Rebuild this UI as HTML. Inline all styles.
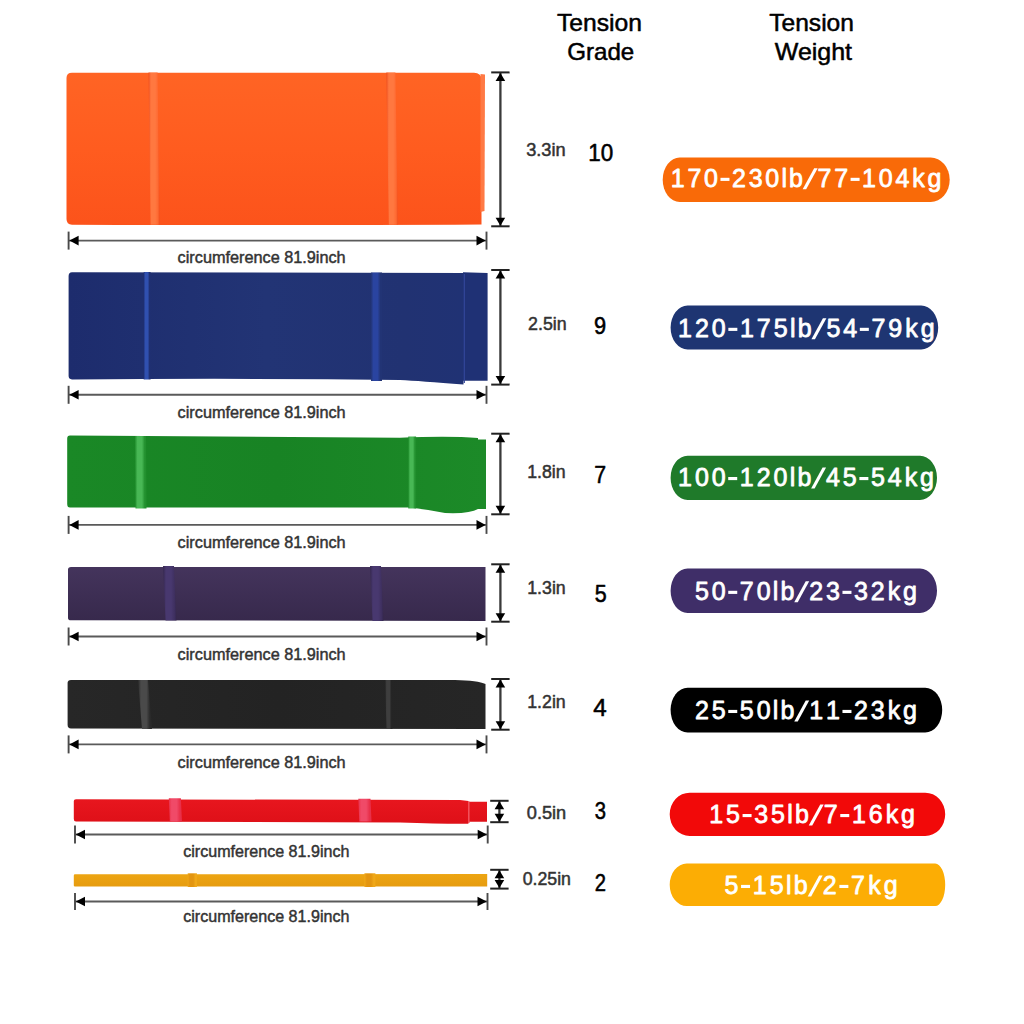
<!DOCTYPE html>
<html><head><meta charset="utf-8"><title>Resistance bands</title>
<style>html,body{margin:0;padding:0;background:#fff;width:1024px;height:1024px;overflow:hidden;position:relative;font-family:"Liberation Sans",sans-serif}</style>
</head><body>
<svg width="1024" height="1024" viewBox="0 0 1024 1024" style="position:absolute;left:0;top:0"><defs><linearGradient id="g1" x1="0" y1="0" x2="0" y2="1"><stop offset="0" stop-color="#FF6424"/><stop offset="0.5" stop-color="#FF5C1F"/><stop offset="1" stop-color="#FC531B"/></linearGradient><linearGradient id="g2" x1="0" y1="0" x2="1" y2="0"><stop offset="0" stop-color="#EE5020"/><stop offset="0.22" stop-color="#FF7840"/><stop offset="0.6" stop-color="#FF7840"/><stop offset="0.85" stop-color="#FF6A32"/><stop offset="1" stop-color="#EE5020"/></linearGradient><linearGradient id="g3" x1="0" y1="0" x2="1" y2="0"><stop offset="0" stop-color="#EE5020"/><stop offset="0.22" stop-color="#FF7840"/><stop offset="0.6" stop-color="#FF7840"/><stop offset="0.85" stop-color="#FF6A32"/><stop offset="1" stop-color="#EE5020"/></linearGradient><linearGradient id="g4" x1="0" y1="0" x2="1" y2="0"><stop offset="0" stop-color="#1D2C6D"/><stop offset="0.5" stop-color="#223475"/><stop offset="0.85" stop-color="#213272"/><stop offset="1" stop-color="#203274"/></linearGradient><linearGradient id="g5" x1="0" y1="0" x2="1" y2="0"><stop offset="0" stop-color="#1F2F72"/><stop offset="0.22" stop-color="#3050B0"/><stop offset="0.6" stop-color="#3050B0"/><stop offset="0.85" stop-color="#1F2F72"/><stop offset="1" stop-color="#1F2F72"/></linearGradient><linearGradient id="g6" x1="0" y1="0" x2="1" y2="0"><stop offset="0" stop-color="#223475"/><stop offset="0.22" stop-color="#2A44A0"/><stop offset="0.6" stop-color="#2A44A0"/><stop offset="0.85" stop-color="#223475"/><stop offset="1" stop-color="#223475"/></linearGradient><linearGradient id="g7" x1="0" y1="0" x2="1" y2="0"><stop offset="0" stop-color="#1A8826"/><stop offset="0.5" stop-color="#188324"/><stop offset="1" stop-color="#1C8A28"/></linearGradient><linearGradient id="g8" x1="0" y1="0" x2="1" y2="0"><stop offset="0" stop-color="#22902E"/><stop offset="0.22" stop-color="#48B855"/><stop offset="0.6" stop-color="#48B855"/><stop offset="0.85" stop-color="#22902E"/><stop offset="1" stop-color="#22902E"/></linearGradient><linearGradient id="g9" x1="0" y1="0" x2="1" y2="0"><stop offset="0" stop-color="#22902E"/><stop offset="0.22" stop-color="#48B855"/><stop offset="0.6" stop-color="#48B855"/><stop offset="0.85" stop-color="#22902E"/><stop offset="1" stop-color="#22902E"/></linearGradient><linearGradient id="g10" x1="0" y1="0" x2="0" y2="1"><stop offset="0" stop-color="#44345C"/><stop offset="1" stop-color="#37294C"/></linearGradient><linearGradient id="g11" x1="0" y1="0" x2="1" y2="0"><stop offset="0" stop-color="#34274E"/><stop offset="0.22" stop-color="#48386F"/><stop offset="0.6" stop-color="#48386F"/><stop offset="0.85" stop-color="#3F3060"/><stop offset="1" stop-color="#34274E"/></linearGradient><linearGradient id="g12" x1="0" y1="0" x2="1" y2="0"><stop offset="0" stop-color="#34274E"/><stop offset="0.22" stop-color="#48386F"/><stop offset="0.6" stop-color="#48386F"/><stop offset="0.85" stop-color="#3F3060"/><stop offset="1" stop-color="#34274E"/></linearGradient><linearGradient id="g13" x1="0" y1="0" x2="1" y2="0"><stop offset="0" stop-color="#272727"/><stop offset="0.5" stop-color="#232323"/><stop offset="1" stop-color="#262626"/></linearGradient><linearGradient id="g14" x1="0" y1="0" x2="1" y2="0"><stop offset="0" stop-color="#2A2A2A"/><stop offset="0.22" stop-color="#4A4A4A"/><stop offset="0.6" stop-color="#4A4A4A"/><stop offset="0.85" stop-color="#2A2A2A"/><stop offset="1" stop-color="#2A2A2A"/></linearGradient><linearGradient id="g15" x1="0" y1="0" x2="1" y2="0"><stop offset="0" stop-color="#262626"/><stop offset="0.22" stop-color="#3E3E3E"/><stop offset="0.6" stop-color="#3E3E3E"/><stop offset="0.85" stop-color="#262626"/><stop offset="1" stop-color="#262626"/></linearGradient><linearGradient id="g16" x1="0" y1="0" x2="0" y2="1"><stop offset="0" stop-color="#E8161E"/><stop offset="1" stop-color="#DE1018"/></linearGradient><linearGradient id="g17" x1="0" y1="0" x2="1" y2="0"><stop offset="0" stop-color="#E8304A"/><stop offset="0.22" stop-color="#F04A68"/><stop offset="0.6" stop-color="#F04A68"/><stop offset="0.85" stop-color="#E8304A"/><stop offset="1" stop-color="#E8304A"/></linearGradient><linearGradient id="g18" x1="0" y1="0" x2="1" y2="0"><stop offset="0" stop-color="#E8304A"/><stop offset="0.22" stop-color="#F04A68"/><stop offset="0.6" stop-color="#F04A68"/><stop offset="0.85" stop-color="#E8304A"/><stop offset="1" stop-color="#E8304A"/></linearGradient><linearGradient id="g19" x1="0" y1="0" x2="0" y2="1"><stop offset="0" stop-color="#EDA512"/><stop offset="1" stop-color="#E69C10"/></linearGradient><linearGradient id="g20" x1="0" y1="0" x2="1" y2="0"><stop offset="0" stop-color="#F0A818"/><stop offset="0.22" stop-color="#E39510"/><stop offset="0.6" stop-color="#E39510"/><stop offset="0.85" stop-color="#F0A818"/><stop offset="1" stop-color="#F0A818"/></linearGradient><linearGradient id="g21" x1="0" y1="0" x2="1" y2="0"><stop offset="0" stop-color="#F0A818"/><stop offset="0.22" stop-color="#E39510"/><stop offset="0.6" stop-color="#E39510"/><stop offset="0.85" stop-color="#F0A818"/><stop offset="1" stop-color="#F0A818"/></linearGradient></defs><g font-family='"Liberation Sans", sans-serif'><text x="557.05" y="31.2" font-size="24" font-weight="normal" fill="#000" stroke="#000" stroke-width="0.5" stroke-linejoin="round" textLength="84.99" lengthAdjust="spacingAndGlyphs">Tension</text>
<text x="567.25" y="59.7" font-size="24" font-weight="normal" fill="#000" stroke="#000" stroke-width="0.5" stroke-linejoin="round" textLength="67.01" lengthAdjust="spacingAndGlyphs">Grade</text>
<text x="769.25" y="31.2" font-size="24" font-weight="normal" fill="#000" stroke="#000" stroke-width="0.5" stroke-linejoin="round" textLength="84.70" lengthAdjust="spacingAndGlyphs">Tension</text>
<text x="774.85" y="59.7" font-size="24" font-weight="normal" fill="#000" stroke="#000" stroke-width="0.5" stroke-linejoin="round" textLength="77.21" lengthAdjust="spacingAndGlyphs">Weight</text>
<path d="M66.5,78 Q66.5,72.7 72,72.7 L474,72.8 Q481,73 481.5,79 L481.5,224.5 Q300,225.5 72,224.8 Q66.5,224.5 66.5,219 Z" fill="url(#g1)"/>
<path d="M480.5,74 L485,74.5 L484.5,211 L480.5,212 Z" fill="#FF7A45"/>
<polygon points="148.5,72.5 157.6,72.5 159.6,224.8 150.5,224.8" fill="url(#g2)"/>
<polygon points="386.3,72.5 395.4,72.5 397.9,224.8 388.8,224.8" fill="url(#g3)"/>
<line x1="68.6" y1="240.6" x2="486.5" y2="240.6" stroke="#5a5a5a" stroke-width="1.9"/>
<line x1="68.6" y1="231.6" x2="68.6" y2="249.6" stroke="#4a4a4a" stroke-width="1.9"/>
<line x1="486.5" y1="231.6" x2="486.5" y2="249.6" stroke="#4a4a4a" stroke-width="1.9"/>
<polygon points="69.39999999999999,240.6 78.6,235.79999999999998 78.6,245.4" fill="#000"/>
<polygon points="485.7,240.6 476.5,235.79999999999998 476.5,245.4" fill="#000"/>
<line x1="500.4" y1="72.4" x2="500.4" y2="226.3" stroke="#3a3a3a" stroke-width="2.3"/>
<line x1="491.2" y1="72.4" x2="509.59999999999997" y2="72.4" stroke="#222" stroke-width="2"/>
<line x1="491.2" y1="226.3" x2="509.59999999999997" y2="226.3" stroke="#222" stroke-width="2"/>
<polygon points="500.4,72.9 495.59999999999997,80.9 505.2,80.9" fill="#000"/>
<polygon points="500.4,225.8 495.59999999999997,217.8 505.2,217.8" fill="#000"/>
<path d="M68.6,276 Q68.6,272.2 72,272.2 L463.5,273 L463.5,384.5 Q420,381 400,380 Q240,378 72,379.5 Q68.6,379 68.6,376 Z" fill="url(#g4)"/>
<path d="M463,272.2 L487.6,273 L487.6,380.7 L463,380.7 Z" fill="#1F3175"/>
<line x1="464.3" y1="274" x2="464.3" y2="383" stroke="#33479A" stroke-width="1.2"/>
<polygon points="143.7,272 150.6,272 150.6,379.5 143.7,379.5" fill="url(#g5)"/>
<polygon points="371,272.5 382,272.5 382,381 371,381" fill="url(#g6)"/>
<line x1="68.6" y1="394.8" x2="486.5" y2="394.8" stroke="#5a5a5a" stroke-width="1.9"/>
<line x1="68.6" y1="385.8" x2="68.6" y2="403.8" stroke="#4a4a4a" stroke-width="1.9"/>
<line x1="486.5" y1="385.8" x2="486.5" y2="403.8" stroke="#4a4a4a" stroke-width="1.9"/>
<polygon points="69.39999999999999,394.8 78.6,390.0 78.6,399.6" fill="#000"/>
<polygon points="485.7,394.8 476.5,390.0 476.5,399.6" fill="#000"/>
<line x1="500.4" y1="270" x2="500.4" y2="384.6" stroke="#3a3a3a" stroke-width="2.3"/>
<line x1="491.2" y1="270" x2="509.59999999999997" y2="270" stroke="#222" stroke-width="2"/>
<line x1="491.2" y1="384.6" x2="509.59999999999997" y2="384.6" stroke="#222" stroke-width="2"/>
<polygon points="500.4,270.5 495.59999999999997,278.5 505.2,278.5" fill="#000"/>
<polygon points="500.4,384.1 495.59999999999997,376.1 505.2,376.1" fill="#000"/>
<path d="M67.2,438.5 Q67.2,435.5 70,435.5 L400,437.7 Q450,435.5 478,438 L478,439.6 L486,439.6 L486,509 L478,509 Q470,514 445,513 Q425,509 408,507.5 L70,507.5 Q67.2,507.5 67.2,504 Z" fill="url(#g7)"/>
<polygon points="135,436 146,436 146.5,508.5 135.5,508.5" fill="url(#g8)"/>
<polygon points="408.3,436.5 416.1,436.5 416.1,508.5 408.3,508.5" fill="url(#g9)"/>
<line x1="68.6" y1="524.9" x2="486.5" y2="524.9" stroke="#5a5a5a" stroke-width="1.9"/>
<line x1="68.6" y1="515.9" x2="68.6" y2="533.9" stroke="#4a4a4a" stroke-width="1.9"/>
<line x1="486.5" y1="515.9" x2="486.5" y2="533.9" stroke="#4a4a4a" stroke-width="1.9"/>
<polygon points="69.39999999999999,524.9 78.6,520.1 78.6,529.6999999999999" fill="#000"/>
<polygon points="485.7,524.9 476.5,520.1 476.5,529.6999999999999" fill="#000"/>
<line x1="500.4" y1="433.7" x2="500.4" y2="514.3" stroke="#3a3a3a" stroke-width="2.3"/>
<line x1="491.2" y1="433.7" x2="509.59999999999997" y2="433.7" stroke="#222" stroke-width="2"/>
<line x1="491.2" y1="514.3" x2="509.59999999999997" y2="514.3" stroke="#222" stroke-width="2"/>
<polygon points="500.4,434.2 495.59999999999997,442.2 505.2,442.2" fill="#000"/>
<polygon points="500.4,513.8 495.59999999999997,505.79999999999995 505.2,505.79999999999995" fill="#000"/>
<path d="M68,569.5 Q68,567 71,567 L485.5,567 L485.5,621 L71,620.3 Q68,620.3 68,618 Z" fill="url(#g10)"/>
<polygon points="163,566 174,566 176.5,620.5 165.5,620.5" fill="url(#g11)"/>
<polygon points="370,566 381,566 383.5,621 372.5,621" fill="url(#g12)"/>
<line x1="68.6" y1="636.5" x2="486.5" y2="636.5" stroke="#5a5a5a" stroke-width="1.9"/>
<line x1="68.6" y1="627.5" x2="68.6" y2="645.5" stroke="#4a4a4a" stroke-width="1.9"/>
<line x1="486.5" y1="627.5" x2="486.5" y2="645.5" stroke="#4a4a4a" stroke-width="1.9"/>
<polygon points="69.39999999999999,636.5 78.6,631.7 78.6,641.3" fill="#000"/>
<polygon points="485.7,636.5 476.5,631.7 476.5,641.3" fill="#000"/>
<line x1="500.4" y1="564.3" x2="500.4" y2="621.7" stroke="#3a3a3a" stroke-width="2.3"/>
<line x1="491.2" y1="564.3" x2="509.59999999999997" y2="564.3" stroke="#222" stroke-width="2"/>
<line x1="491.2" y1="621.7" x2="509.59999999999997" y2="621.7" stroke="#222" stroke-width="2"/>
<polygon points="500.4,564.8 495.59999999999997,572.8 505.2,572.8" fill="#000"/>
<polygon points="500.4,621.2 495.59999999999997,613.2 505.2,613.2" fill="#000"/>
<path d="M67.6,683 Q67.6,680 71,680 L455,680 Q478,680.5 485.5,684 L485.5,729 L71,728.6 Q67.6,728.4 67.6,725 Z" fill="url(#g13)"/>
<polygon points="138,680 148,680 152,729 142,729" fill="url(#g14)"/>
<polygon points="385,680 391,680 392.5,729 386.5,729" fill="url(#g15)"/>
<line x1="68.6" y1="744.4" x2="486.5" y2="744.4" stroke="#5a5a5a" stroke-width="1.9"/>
<line x1="68.6" y1="735.4" x2="68.6" y2="753.4" stroke="#4a4a4a" stroke-width="1.9"/>
<line x1="486.5" y1="735.4" x2="486.5" y2="753.4" stroke="#4a4a4a" stroke-width="1.9"/>
<polygon points="69.39999999999999,744.4 78.6,739.6 78.6,749.1999999999999" fill="#000"/>
<polygon points="485.7,744.4 476.5,739.6 476.5,749.1999999999999" fill="#000"/>
<line x1="500.4" y1="679" x2="500.4" y2="729.7" stroke="#3a3a3a" stroke-width="2.3"/>
<line x1="491.2" y1="679" x2="509.59999999999997" y2="679" stroke="#222" stroke-width="2"/>
<line x1="491.2" y1="729.7" x2="509.59999999999997" y2="729.7" stroke="#222" stroke-width="2"/>
<polygon points="500.4,679.5 495.59999999999997,687.5 505.2,687.5" fill="#000"/>
<polygon points="500.4,729.2 495.59999999999997,721.2 505.2,721.2" fill="#000"/>
<path d="M73.8,801 Q73.8,799.3 76,799.3 L460,800 L468.4,801 L468.4,801.8 L487,801.8 L487,821.7 L468.4,821.7 L468.4,823.8 Q440,824 400,822.5 L76,821.5 Q73.8,821.5 73.8,819 Z" fill="url(#g16)"/>
<path d="M468,801.5 L469.6,801.5 L469.6,823 L468,823 Z" fill="#F2505A"/>
<polygon points="168.8,798.3 180.9,798.3 181.9,821.5 169.8,821.5" fill="url(#g17)"/>
<polygon points="358.3,798.8 370.5,798.8 371.5,821.5 359.3,821.5" fill="url(#g18)"/>
<line x1="75" y1="834.5" x2="487.7" y2="834.5" stroke="#5a5a5a" stroke-width="1.9"/>
<line x1="75" y1="825.5" x2="75" y2="843.5" stroke="#4a4a4a" stroke-width="1.9"/>
<line x1="487.7" y1="825.5" x2="487.7" y2="843.5" stroke="#4a4a4a" stroke-width="1.9"/>
<polygon points="75.8,834.5 85,829.7 85,839.3" fill="#000"/>
<polygon points="486.9,834.5 477.7,829.7 477.7,839.3" fill="#000"/>
<line x1="499.4" y1="800.8" x2="499.4" y2="822.2" stroke="#3a3a3a" stroke-width="2.3"/>
<line x1="490.2" y1="800.8" x2="508.59999999999997" y2="800.8" stroke="#222" stroke-width="2"/>
<line x1="490.2" y1="822.2" x2="508.59999999999997" y2="822.2" stroke="#222" stroke-width="2"/>
<polygon points="499.4,801.3 494.59999999999997,809.3 504.2,809.3" fill="#000"/>
<polygon points="499.4,821.7 494.59999999999997,813.7 504.2,813.7" fill="#000"/>
<path d="M73.8,875.5 Q73.8,874.3 75,874.3 L487.2,874 L487.2,886.5 L75,886.5 Q73.8,886.5 73.8,885.5 Z" fill="url(#g19)"/>
<polygon points="187.7,873.3 196.9,873.3 196.9,887 187.7,887" fill="url(#g20)"/>
<polygon points="364.4,873.3 375.4,873.3 375.4,887 364.4,887" fill="url(#g21)"/>
<line x1="75" y1="901.5" x2="487.5" y2="901.5" stroke="#5a5a5a" stroke-width="1.9"/>
<line x1="75" y1="893.0" x2="75" y2="910.0" stroke="#4a4a4a" stroke-width="1.9"/>
<line x1="487.5" y1="893.0" x2="487.5" y2="910.0" stroke="#4a4a4a" stroke-width="1.9"/>
<polygon points="75.8,901.5 85,896.7 85,906.3" fill="#000"/>
<polygon points="486.7,901.5 477.5,896.7 477.5,906.3" fill="#000"/>
<line x1="499.4" y1="869.8" x2="499.4" y2="888.6" stroke="#3a3a3a" stroke-width="2.3"/>
<line x1="490.2" y1="869.8" x2="508.59999999999997" y2="869.8" stroke="#222" stroke-width="2"/>
<line x1="490.2" y1="888.6" x2="508.59999999999997" y2="888.6" stroke="#222" stroke-width="2"/>
<polygon points="499.4,870.3 494.59999999999997,878.3 504.2,878.3" fill="#000"/>
<polygon points="499.4,888.1 494.59999999999997,880.1 504.2,880.1" fill="#000"/>
<text x="177.62" y="263.2" font-size="16" font-weight="normal" fill="#333" stroke="#333" stroke-width="0.45" stroke-linejoin="round" textLength="168.06" lengthAdjust="spacingAndGlyphs">circumference 81.9inch</text>
<text x="526.15" y="156" font-size="18" font-weight="normal" fill="#333" stroke="#333" stroke-width="0.5" stroke-linejoin="round" textLength="39.51" lengthAdjust="spacingAndGlyphs">3.3in</text>
<text x="588.27" y="161" font-size="23.5" font-weight="normal" fill="#000" stroke="#000" stroke-width="0.55" stroke-linejoin="round" textLength="24.96" lengthAdjust="spacingAndGlyphs">10</text>
<path d="M679.7,157.5 H930.7 A19,22.25 0 0 1 949.7,179.75 A19,22.25 0 0 1 930.7,202 H679.7 A17,22.25 0 0 1 662.7,179.75 A17,22.25 0 0 1 679.7,157.5 Z" fill="#F96A08"/>
<text transform="scale(1.0,1)" x="670.69 687.38 704.06 731.97 748.66 765.34 781.46 789.07 817.48 834.17 862.08 878.76 895.45 912.25 927.47" y="186.8" font-size="25" font-weight="normal" fill="#fff" stroke="#fff" stroke-width="0.8" stroke-linejoin="round">170230lb77104kg</text>
<rect x="720.47" y="177.80" width="9.00" height="3.12" fill="#fff"/>
<polygon points="802.65,189.30 806.15,189.30 817.65,168.30 814.15,168.30" fill="#fff"/>
<rect x="850.58" y="177.80" width="9.00" height="3.12" fill="#fff"/>
<text x="177.62" y="418.2" font-size="16" font-weight="normal" fill="#333" stroke="#333" stroke-width="0.45" stroke-linejoin="round" textLength="168.06" lengthAdjust="spacingAndGlyphs">circumference 81.9inch</text>
<text x="528.05" y="329.8" font-size="18" font-weight="normal" fill="#333" stroke="#333" stroke-width="0.5" stroke-linejoin="round" textLength="38.61" lengthAdjust="spacingAndGlyphs">2.5in</text>
<text x="593.98" y="334.2" font-size="23.5" font-weight="normal" fill="#000" stroke="#000" stroke-width="0.55" stroke-linejoin="round" textLength="12.15" lengthAdjust="spacingAndGlyphs">9</text>
<path d="M687.6,305.6 H921.2 A17,21.94999999999999 0 0 1 938.2,327.55 A17,21.94999999999999 0 0 1 921.2,349.5 H687.6 A17,21.94999999999999 0 0 1 670.6,327.55 A17,21.94999999999999 0 0 1 687.6,305.6 Z" fill="#1E3572"/>
<text transform="scale(1.0,1)" x="678.08 694.94 711.8 740.0 756.86 773.72 789.97 797.7 826.41 843.27 871.47 888.33 905.29 920.69" y="336.8" font-size="25" font-weight="normal" fill="#fff" stroke="#fff" stroke-width="0.8" stroke-linejoin="round">120175lb5479kg</text>
<rect x="728.35" y="327.80" width="9.00" height="3.12" fill="#fff"/>
<polygon points="811.42,339.30 814.92,339.30 826.42,318.30 822.92,318.30" fill="#fff"/>
<rect x="859.82" y="327.80" width="9.00" height="3.12" fill="#fff"/>
<text x="177.62" y="548.2" font-size="16" font-weight="normal" fill="#333" stroke="#333" stroke-width="0.45" stroke-linejoin="round" textLength="168.06" lengthAdjust="spacingAndGlyphs">circumference 81.9inch</text>
<text x="527.25" y="477.9" font-size="18" font-weight="normal" fill="#333" stroke="#333" stroke-width="0.5" stroke-linejoin="round" textLength="38.41" lengthAdjust="spacingAndGlyphs">1.8in</text>
<text x="594.27" y="482.6" font-size="23.5" font-weight="normal" fill="#000" stroke="#000" stroke-width="0.55" stroke-linejoin="round" textLength="11.85" lengthAdjust="spacingAndGlyphs">7</text>
<path d="M687.6,455.7 H920 A17,22.150000000000006 0 0 1 937,477.85 A17,22.150000000000006 0 0 1 920,500 H687.6 A17,22.150000000000006 0 0 1 670.6,477.85 A17,22.150000000000006 0 0 1 687.6,455.7 Z" fill="#1F7A2A"/>
<text transform="scale(1.0,1)" x="678.06 694.88 711.7 739.84 756.66 773.48 789.7 797.4 826.04 842.86 871.0 887.82 904.75 920.11" y="486" font-size="25" font-weight="normal" fill="#fff" stroke="#fff" stroke-width="0.8" stroke-linejoin="round">100120lb4554kg</text>
<rect x="728.22" y="477.00" width="9.00" height="3.12" fill="#fff"/>
<polygon points="811.09,488.50 814.59,488.50 826.09,467.50 822.59,467.50" fill="#fff"/>
<rect x="859.38" y="477.00" width="9.00" height="3.12" fill="#fff"/>
<text x="177.62" y="660.2" font-size="16" font-weight="normal" fill="#333" stroke="#333" stroke-width="0.45" stroke-linejoin="round" textLength="168.06" lengthAdjust="spacingAndGlyphs">circumference 81.9inch</text>
<text x="527.25" y="593.6" font-size="18" font-weight="normal" fill="#333" stroke="#333" stroke-width="0.5" stroke-linejoin="round" textLength="38.51" lengthAdjust="spacingAndGlyphs">1.3in</text>
<text x="594.77" y="602" font-size="23.5" font-weight="normal" fill="#000" stroke="#000" stroke-width="0.55" stroke-linejoin="round" textLength="11.95" lengthAdjust="spacingAndGlyphs">5</text>
<path d="M687.6,568.6 H920 A17,22.19999999999999 0 0 1 937,590.8 A17,22.19999999999999 0 0 1 920,613 H687.6 A17,22.19999999999999 0 0 1 670.6,590.8 A17,22.19999999999999 0 0 1 687.6,568.6 Z" fill="#3F2E68"/>
<text transform="scale(1.0,1)" x="694.95 711.75 739.85 756.66 772.86 780.55 809.16 825.96 854.07 870.87 887.78 903.12" y="599.8" font-size="25" font-weight="normal" fill="#fff" stroke="#fff" stroke-width="0.8" stroke-linejoin="round">5070lb2332kg</text>
<rect x="728.25" y="590.80" width="9.00" height="3.12" fill="#fff"/>
<polygon points="794.23,602.30 797.73,602.30 809.23,581.30 805.73,581.30" fill="#fff"/>
<rect x="842.47" y="590.80" width="9.00" height="3.12" fill="#fff"/>
<text x="177.62" y="768.2" font-size="16" font-weight="normal" fill="#333" stroke="#333" stroke-width="0.45" stroke-linejoin="round" textLength="168.06" lengthAdjust="spacingAndGlyphs">circumference 81.9inch</text>
<text x="527.25" y="707.7" font-size="18" font-weight="normal" fill="#333" stroke="#333" stroke-width="0.5" stroke-linejoin="round" textLength="38.51" lengthAdjust="spacingAndGlyphs">1.2in</text>
<text x="593.27" y="715.6" font-size="23.5" font-weight="normal" fill="#000" stroke="#000" stroke-width="0.55" stroke-linejoin="round" textLength="13.45" lengthAdjust="spacingAndGlyphs">4</text>
<path d="M687.6,687.7 H925.2 A17,22.399999999999977 0 0 1 942.2,710.1 A17,22.399999999999977 0 0 1 925.2,732.5 H687.6 A17,22.399999999999977 0 0 1 670.6,710.1 A17,22.399999999999977 0 0 1 687.6,687.7 Z" fill="#000000"/>
<text transform="scale(1.0,1)" x="694.95 711.75 739.85 756.66 772.86 780.55 809.16 825.96 854.07 870.87 887.78 903.12" y="718.9" font-size="25" font-weight="normal" fill="#fff" stroke="#fff" stroke-width="0.8" stroke-linejoin="round">2550lb1123kg</text>
<rect x="728.25" y="709.90" width="9.00" height="3.12" fill="#fff"/>
<polygon points="794.23,721.40 797.73,721.40 809.23,700.40 805.73,700.40" fill="#fff"/>
<rect x="842.47" y="709.90" width="9.00" height="3.12" fill="#fff"/>
<text x="183.22" y="856.9" font-size="16" font-weight="normal" fill="#333" stroke="#333" stroke-width="0.45" stroke-linejoin="round" textLength="166.16" lengthAdjust="spacingAndGlyphs">circumference 81.9inch</text>
<text x="526.75" y="818.6" font-size="18" font-weight="normal" fill="#333" stroke="#333" stroke-width="0.5" stroke-linejoin="round" textLength="39.51" lengthAdjust="spacingAndGlyphs">0.5in</text>
<text x="594.77" y="818.5" font-size="23.5" font-weight="normal" fill="#000" stroke="#000" stroke-width="0.55" stroke-linejoin="round" textLength="11.25" lengthAdjust="spacingAndGlyphs">3</text>
<path d="M689.7,792.7 H925.2 A20,21.649999999999977 0 0 1 945.2,814.35 A20,21.649999999999977 0 0 1 925.2,836 H689.7 A20,21.649999999999977 0 0 1 669.7,814.35 A20,21.649999999999977 0 0 1 689.7,792.7 Z" fill="#F20909"/>
<text transform="scale(1.0,1)" x="709.17 726.02 754.21 771.06 787.3 795.03 823.72 851.9 868.75 885.71 901.09" y="823" font-size="25" font-weight="normal" fill="#fff" stroke="#fff" stroke-width="0.8" stroke-linejoin="round">1535lb716kg</text>
<rect x="742.57" y="814.00" width="9.00" height="3.12" fill="#fff"/>
<polygon points="808.74,825.50 812.24,825.50 823.74,804.50 820.24,804.50" fill="#fff"/>
<rect x="840.26" y="814.00" width="9.00" height="3.12" fill="#fff"/>
<text x="183.22" y="921.9" font-size="16" font-weight="normal" fill="#333" stroke="#333" stroke-width="0.45" stroke-linejoin="round" textLength="166.16" lengthAdjust="spacingAndGlyphs">circumference 81.9inch</text>
<text x="522.65" y="884.6" font-size="18" font-weight="normal" fill="#333" stroke="#333" stroke-width="0.5" stroke-linejoin="round" textLength="48.29" lengthAdjust="spacingAndGlyphs">0.25in</text>
<text x="594.77" y="891" font-size="23.5" font-weight="normal" fill="#000" stroke="#000" stroke-width="0.55" stroke-linejoin="round" textLength="11.25" lengthAdjust="spacingAndGlyphs">2</text>
<path d="M686.7,863.6 H935.2 A10,21.19999999999999 0 0 1 945.2,884.8 A10,21.19999999999999 0 0 1 935.2,906 H686.7 A17,21.19999999999999 0 0 1 669.7,884.8 A17,21.19999999999999 0 0 1 686.7,863.6 Z" fill="#FCAD04"/>
<text transform="scale(1.0,1)" x="724.43 752.79 769.74 786.06 793.86 822.73 851.1 868.15 883.64" y="893.9" font-size="25" font-weight="normal" fill="#fff" stroke="#fff" stroke-width="0.8" stroke-linejoin="round">515lb27kg</text>
<rect x="741.06" y="884.90" width="9.00" height="3.12" fill="#fff"/>
<polygon points="807.66,896.40 811.16,896.40 822.66,875.40 819.16,875.40" fill="#fff"/>
<rect x="839.37" y="884.90" width="9.00" height="3.12" fill="#fff"/></g></svg>
</body></html>
